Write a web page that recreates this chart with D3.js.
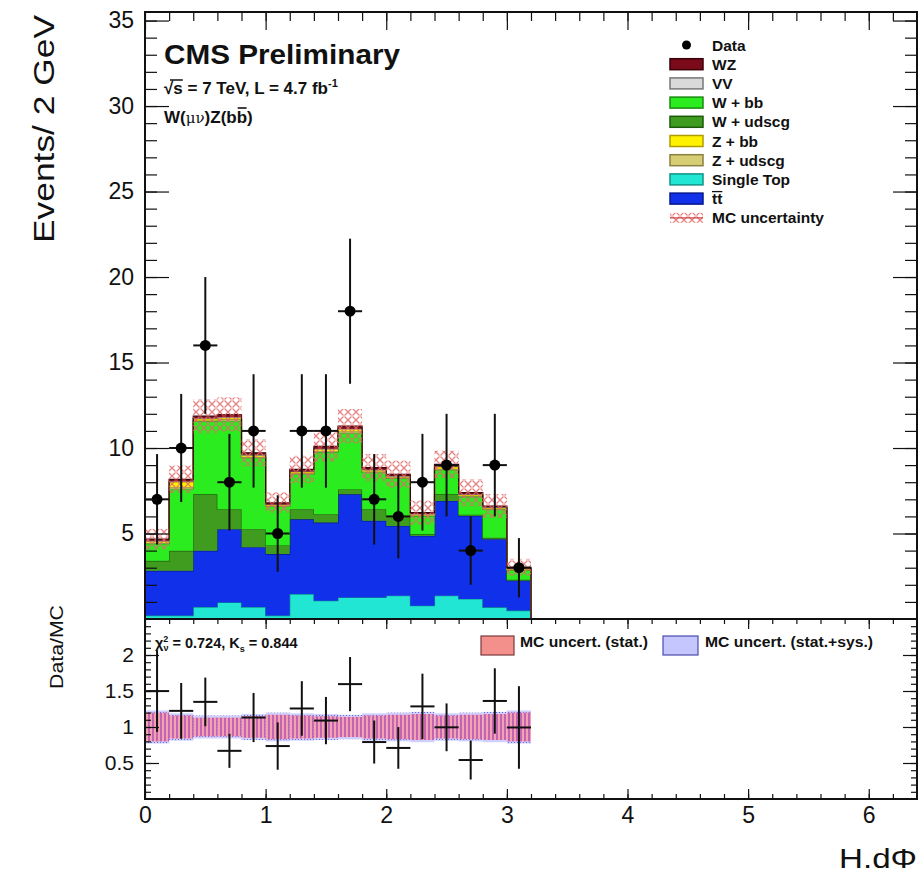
<!DOCTYPE html>
<html>
<head>
<meta charset="utf-8">
<script src="https://cdn.jsdelivr.net/npm/d3@7"></script>
<style>
  body { margin: 0; background: #fff; }
  svg { display: block; }
  text { font-family: "Liberation Sans", Arial, Helvetica, sans-serif; fill: #111; }
</style>
</head>
<body>
<svg id="chart" width="919" height="882"></svg>
<script>
// ---- binning (H.dPhi, 0.2 wide bins) ----
const binEdges = [0, 0.2, 0.4, 0.6, 0.8, 1.0, 1.2, 1.4, 1.6, 1.8, 2.0, 2.2, 2.4, 2.6, 2.8, 3.0, 3.2];

// ---- observed events ----
const dataCounts = [7, 10, 16, 8, 11, 5, 11, 11, 18, 7, 6, 8, 9, 4, 9, 3];

// ---- simulated backgrounds (stacked bottom to top) ----
const singleTop = [0.2, 0.2, 0.7, 0.97, 0.7, 0.2, 1.46, 1.07, 1.26, 1.26, 1.36, 0.78, 1.36, 1.17, 0.68, 0.49];
const ttbar     = [2.62, 2.62, 3.29, 4.28, 3.5, 3.6, 4.37, 4.57, 6.03, 4.48, 4.08, 4.08, 5.54, 4.86, 3.99, 1.75];
const wudscg    = [0.58, 1.17, 3.3, 1.17, 1.05, 0.5, 0.59, 0.49, 0.29, 0.68, 0.59, 0.09, 0.39, 0.07, 0.08, 0.06];
const wbb       = [1.01, 3.63, 4.27, 5.18, 4.19, 2.28, 2.05, 3.64, 3.32, 2.15, 2.2, 1.08, 1.45, 1.06, 1.67, 0.57];
const zudscg    = [0.05, 0.1, 0.05, 0.08, 0.05, 0.04, 0.05, 0.06, 0.08, 0.05, 0.04, 0.03, 0.05, 0.04, 0.03, 0.02];
const zbb       = [0.08, 0.3, 0.1, 0.1, 0.08, 0.05, 0.08, 0.1, 0.12, 0.08, 0.06, 0.05, 0.1, 0.06, 0.05, 0.04];
const vv        = [0.03, 0.03, 0.03, 0.03, 0.03, 0.03, 0.03, 0.03, 0.03, 0.03, 0.03, 0.03, 0.03, 0.03, 0.03, 0.03];
const wz        = [0.1, 0.12, 0.12, 0.15, 0.12, 0.1, 0.12, 0.14, 0.15, 0.12, 0.1, 0.08, 0.12, 0.1, 0.08, 0.06];

// ---- MC uncertainty on the stack total (absolute) ----
const mcErr = [0.6, 0.8, 1.0, 1.0, 0.8, 0.6, 0.8, 0.9, 1.0, 0.8, 0.8, 0.7, 0.8, 0.8, 0.7, 0.5];

// ---- relative MC uncertainty bands in the ratio panel ----
const statRel = [0.20, 0.16, 0.13, 0.13, 0.15, 0.17, 0.16, 0.15, 0.14, 0.16, 0.17, 0.18, 0.16, 0.17, 0.18, 0.20];
const sysRel  = [0.23, 0.19, 0.16, 0.16, 0.18, 0.20, 0.19, 0.18, 0.17, 0.19, 0.20, 0.21, 0.19, 0.20, 0.21, 0.23];

// ---- axis tick labels ----
const xTickLabels = [0, 1, 2, 3, 4, 5, 6];
const yTickLabels = [5, 10, 15, 20, 25, 30, 35];
const ratioTickLabels = [0.5, 1, 1.5, 2];

// ---- processes: key, legend label, fill, outline ----
const processes = [
  { key: "singleTop", label: "Single Top", fill: "#22e6d4", line: "#119488", values: singleTop },
  { key: "ttbar",     label: "tt",         fill: "#1030ea", line: "#08188c", values: ttbar },
  { key: "wudscg",    label: "W + udscg",  fill: "#3f9c1f", line: "#1d5a0a", values: wudscg },
  { key: "wbb",       label: "W + bb",     fill: "#2aec1e", line: "#1a8a12", values: wbb },
  { key: "zudscg",    label: "Z + udscg",  fill: "#d7cd74", line: "#8a8040", values: zudscg },
  { key: "zbb",       label: "Z + bb",     fill: "#fff200", line: "#b09c00", values: zbb },
  { key: "vv",        label: "VV",         fill: "#d9d9d9", line: "#777777", values: vv },
  { key: "wz",        label: "WZ",         fill: "#7b0a1a", line: "#3a0008", values: wz }
];
const legendOrder = ["wz", "vv", "wbb", "wudscg", "zbb", "zudscg", "singleTop", "ttbar"];

// ---- geometry ----
const L = 145, R = 917, T = 12, MID = 619, B = 799;
const svg = d3.select("#chart");

const x = d3.scaleLinear().domain([0, 6.4]).range([L, R]);
const y = d3.scaleLinear().domain([0, 35.5]).range([MID, T]);
const yr = d3.scaleLinear().domain([0, 2.5]).range([B, MID]);

// ---- patterns ----
const defs = svg.append("defs");
const hatch = defs.append("pattern").attr("id", "xhatch").attr("patternUnits", "userSpaceOnUse")
  .attr("width", 8).attr("height", 8);
hatch.append("path").attr("d", "M0.5,0.5L7.5,7.5M7.5,0.5L0.5,7.5")
  .attr("stroke", "#e26a6a").attr("stroke-width", 1.2).attr("fill", "none").attr("opacity", 0.85);

const statPat = defs.append("pattern").attr("id", "statPat").attr("patternUnits", "userSpaceOnUse")
  .attr("width", 4).attr("height", 4);
statPat.append("rect").attr("width", 4).attr("height", 4).attr("fill", "#f2a2b0");
statPat.append("line").attr("x1", 1).attr("x2", 1).attr("y1", 0).attr("y2", 4)
  .attr("stroke", "#b04ab4").attr("stroke-width", 1.4);

const sysPat = defs.append("pattern").attr("id", "sysPat").attr("patternUnits", "userSpaceOnUse")
  .attr("width", 3).attr("height", 3);
sysPat.append("rect").attr("width", 3).attr("height", 3).attr("fill", "#cfcfff");
sysPat.append("rect").attr("x", 1).attr("y", 1).attr("width", 1).attr("height", 1).attr("fill", "#6a6ae6");

// ---- stacked histogram ----
const rows = dataCounts.map((_, i) => {
  const r = { lo: binEdges[i], hi: binEdges[i + 1] };
  processes.forEach(p => { r[p.key] = p.values[i]; });
  return r;
});
const layers = d3.stack().keys(processes.map(p => p.key))(rows);
const totals = rows.map((r, i) => layers[layers.length - 1][i][1]);

const gStack = svg.append("g");
layers.forEach((layer, li) => {
  const p = processes[li];
  const pts = [];
  layer.forEach(d => {
    pts.push({ x: d.data.lo, y0: d[0], y1: d[1] });
    pts.push({ x: d.data.hi, y0: d[0], y1: d[1] });
  });
  const area = d3.area().x(d => x(d.x)).y0(d => y(d.y0)).y1(d => y(d.y1));
  gStack.append("path").attr("d", area(pts)).attr("fill", p.fill).attr("stroke", "none");
  const topLine = [{ x: pts[0].x, y1: 0 }, ...pts, { x: pts[pts.length - 1].x, y1: 0 }];
  gStack.append("path")
    .attr("d", d3.line().x(d => x(d.x)).y(d => y(d.y1))(topLine))
    .attr("fill", "none").attr("stroke", p.line).attr("stroke-width", 1.2);
});

// MC uncertainty hatching around the total
svg.append("g").selectAll("rect").data(rows).join("rect")
  .attr("x", d => x(d.lo)).attr("width", d => x(d.hi) - x(d.lo))
  .attr("y", (d, i) => y(totals[i] + mcErr[i]))
  .attr("height", (d, i) => y(totals[i] - mcErr[i]) - y(totals[i] + mcErr[i]))
  .attr("fill", "url(#xhatch)");

// ---- data points with Poisson errors ----
const gData = svg.append("g").attr("stroke", "#111").attr("stroke-width", 2);
rows.forEach((r, i) => {
  const n = dataCounts[i], e = Math.sqrt(n), cx = x((r.lo + r.hi) / 2);
  gData.append("line").attr("x1", cx).attr("x2", cx).attr("y1", y(n + e)).attr("y2", y(n - e));
  gData.append("line").attr("x1", x(r.lo)).attr("x2", x(r.hi)).attr("y1", y(n)).attr("y2", y(n));
  gData.append("circle").attr("cx", cx).attr("cy", y(n)).attr("r", 5.5).attr("fill", "#000").attr("stroke", "none");
});

// ---- ratio panel ----
const gRatio = svg.append("g");
rows.forEach((r, i) => {
  gRatio.append("rect").attr("x", x(r.lo)).attr("width", x(r.hi) - x(r.lo))
    .attr("y", yr(1 + sysRel[i])).attr("height", yr(1 - sysRel[i]) - yr(1 + sysRel[i]))
    .attr("fill", "url(#sysPat)");
  gRatio.append("rect").attr("x", x(r.lo)).attr("width", x(r.hi) - x(r.lo))
    .attr("y", yr(1 + statRel[i])).attr("height", yr(1 - statRel[i]) - yr(1 + statRel[i]))
    .attr("fill", "url(#statPat)");
});
const gRatioPts = svg.append("g").attr("stroke", "#111").attr("stroke-width", 2);
rows.forEach((r, i) => {
  const ratio = dataCounts[i] / totals[i];
  const err = Math.sqrt(dataCounts[i]) / totals[i];
  const cx = x((r.lo + r.hi) / 2);
  gRatioPts.append("line").attr("x1", cx).attr("x2", cx)
    .attr("y1", yr(Math.min(2.5, ratio + err))).attr("y2", yr(Math.max(0, ratio - err)));
  gRatioPts.append("line").attr("x1", x(r.lo)).attr("x2", x(r.hi)).attr("y1", yr(ratio)).attr("y2", yr(ratio));
});

// ---- axes and frames ----
function styleAxis(g, fontSize) {
  g.select(".domain").remove();
  g.selectAll(".tick line").attr("stroke", "#111").attr("stroke-width", 1.2);
  g.selectAll(".tick text").attr("font-size", fontSize).attr("fill", "#1a1a1a")
    .attr("font-family", "Liberation Sans, Arial, sans-serif");
}
const fmt = d => String(d);

// main panel: left / right y, top x
styleAxis(svg.append("g").attr("transform", `translate(${L},0)`)
  .call(d3.axisLeft(y).tickValues(d3.range(1, 36)).tickSize(-12).tickFormat("")), 0);
styleAxis(svg.append("g").attr("transform", `translate(${L},0)`)
  .call(d3.axisLeft(y).tickValues(yTickLabels).tickSize(-24).tickPadding(11).tickFormat(fmt)), 23);
styleAxis(svg.append("g").attr("transform", `translate(${R},0)`)
  .call(d3.axisRight(y).tickValues(d3.range(1, 36)).tickSize(-12).tickFormat("")), 0);
styleAxis(svg.append("g").attr("transform", `translate(${R},0)`)
  .call(d3.axisRight(y).tickValues(yTickLabels).tickSize(-24).tickFormat("")), 0);
styleAxis(svg.append("g").attr("transform", `translate(0,${T})`)
  .call(d3.axisTop(x).tickValues(d3.range(0.2, 6.4, 0.2)).tickSize(-9).tickFormat("")), 0);
styleAxis(svg.append("g").attr("transform", `translate(0,${T})`)
  .call(d3.axisTop(x).tickValues(xTickLabels).tickSize(-18).tickFormat("")), 0);

// ratio panel: left / right y, top / bottom x
styleAxis(svg.append("g").attr("transform", `translate(${L},0)`)
  .call(d3.axisLeft(yr).tickValues(d3.range(0.1, 2.5, 0.1)).tickSize(-6).tickFormat("")), 0);
styleAxis(svg.append("g").attr("transform", `translate(${L},0)`)
  .call(d3.axisLeft(yr).tickValues(ratioTickLabels).tickSize(-14).tickPadding(11).tickFormat(fmt)), 21);
styleAxis(svg.append("g").attr("transform", `translate(${R},0)`)
  .call(d3.axisRight(yr).tickValues(d3.range(0.1, 2.5, 0.1)).tickSize(-6).tickFormat("")), 0);
styleAxis(svg.append("g").attr("transform", `translate(${R},0)`)
  .call(d3.axisRight(yr).tickValues(ratioTickLabels).tickSize(-14).tickFormat("")), 0);
styleAxis(svg.append("g").attr("transform", `translate(0,${MID})`)
  .call(d3.axisTop(x).tickValues(d3.range(0.2, 6.4, 0.2)).tickSize(-5).tickFormat("")), 0);
styleAxis(svg.append("g").attr("transform", `translate(0,${MID})`)
  .call(d3.axisTop(x).tickValues(xTickLabels).tickSize(-10).tickFormat("")), 0);
styleAxis(svg.append("g").attr("transform", `translate(0,${B})`)
  .call(d3.axisBottom(x).tickValues(d3.range(0.2, 6.4, 0.2)).tickSize(-5).tickFormat("")), 0);
styleAxis(svg.append("g").attr("transform", `translate(0,${B})`)
  .call(d3.axisBottom(x).tickValues(xTickLabels).tickSize(-10).tickPadding(8).tickFormat(fmt)), 23);

svg.append("rect").attr("x", L).attr("y", T).attr("width", R - L).attr("height", MID - T)
  .attr("fill", "none").attr("stroke", "#111").attr("stroke-width", 2);
svg.append("rect").attr("x", L).attr("y", MID).attr("width", R - L).attr("height", B - MID)
  .attr("fill", "none").attr("stroke", "#111").attr("stroke-width", 2);

// ---- axis titles ----
svg.append("text").attr("transform", "translate(54,15) rotate(-90)")
  .attr("text-anchor", "end").attr("font-size", 29)
  .attr("textLength", 228).attr("lengthAdjust", "spacingAndGlyphs")
  .text("Events/ 2 GeV");
svg.append("text").attr("transform", "translate(63,605) rotate(-90)")
  .attr("text-anchor", "end").attr("font-size", 18)
  .attr("textLength", 84).attr("lengthAdjust", "spacingAndGlyphs")
  .text("Data/MC");
svg.append("text").attr("x", 917).attr("y", 868).attr("text-anchor", "end")
  .attr("font-size", 27).attr("textLength", 78).attr("lengthAdjust", "spacingAndGlyphs")
  .text("H.dΦ");

// ---- header text ----
svg.append("text").attr("x", 164).attr("y", 64).attr("font-size", 28).attr("font-weight", "bold")
  .attr("textLength", 236).attr("lengthAdjust", "spacingAndGlyphs").text("CMS Preliminary");

const energy = svg.append("text").attr("x", 164).attr("y", 94).attr("font-size", 17).attr("font-weight", "bold");
energy.append("tspan").text("√s = 7 TeV, L = 4.7 fb");
energy.append("tspan").attr("font-size", 11).attr("dy", -7).text("-1");
{
  const n = energy.node();
  const s0 = n.getStartPositionOfChar(0).x + 6, s1 = n.getEndPositionOfChar(1).x;
  svg.append("line").attr("x1", s0).attr("x2", s1).attr("y1", 80).attr("y2", 80)
    .attr("stroke", "#111").attr("stroke-width", 1.5);
}

const chan = svg.append("text").attr("x", 164).attr("y", 123).attr("font-size", 17).attr("font-weight", "bold");
chan.append("tspan").text("W(");
chan.append("tspan").attr("font-family", "DejaVu Serif, Liberation Serif, serif").attr("font-weight", "normal").attr("font-size", 15).text("μν");
chan.append("tspan").text(")Z(bb)");
{
  const n = chan.node();
  const len = n.getNumberOfChars();
  const bIdx = len - 2;
  const a = n.getStartPositionOfChar(bIdx).x, b = n.getEndPositionOfChar(bIdx).x;
  svg.append("line").attr("x1", a + 1).attr("x2", b - 0.5).attr("y1", 108).attr("y2", 108)
    .attr("stroke", "#111").attr("stroke-width", 1.6);
}

// ---- main legend ----
const gLeg = svg.append("g");
const legY0 = 45, legStep = 19.2, boxX = 670, boxW = 33, boxH = 11, textX = 712, legFont = 15.5;
gLeg.append("circle").attr("cx", boxX + boxW / 2).attr("cy", legY0).attr("r", 4.5).attr("fill", "#000");
gLeg.append("text").attr("x", textX).attr("y", legY0 + 5.5).attr("font-size", legFont).attr("font-weight", "bold").text("Data");
legendOrder.forEach((k, i) => {
  const p = processes.find(q => q.key === k);
  const cy = legY0 + legStep * (i + 1);
  gLeg.append("rect").attr("x", boxX).attr("y", cy - boxH / 2).attr("width", boxW).attr("height", boxH)
    .attr("fill", p.fill).attr("stroke", p.line).attr("stroke-width", 1.5);
  const t = gLeg.append("text").attr("x", textX).attr("y", cy + 5.5).attr("font-size", legFont)
    .attr("font-weight", "bold").text(p.label);
  if (k === "ttbar") {
    const w = t.node().getComputedTextLength();
    gLeg.append("line").attr("x1", textX).attr("x2", textX + w).attr("y1", cy - 7).attr("y2", cy - 7)
      .attr("stroke", "#111").attr("stroke-width", 1.3);
  }
});
{
  const cy = legY0 + legStep * 9;
  gLeg.append("rect").attr("x", boxX).attr("y", cy - 5).attr("width", boxW).attr("height", 10).attr("fill", "url(#xhatch)");
  gLeg.append("line").attr("x1", boxX).attr("x2", boxX + boxW).attr("y1", cy).attr("y2", cy)
    .attr("stroke", "#d04848").attr("stroke-width", 1.3);
  gLeg.append("text").attr("x", textX).attr("y", cy + 5.5).attr("font-size", legFont).attr("font-weight", "bold").text("MC uncertainty");
}

// ---- ratio panel annotations ----
const chi = svg.append("text").attr("x", 155).attr("y", 648).attr("font-size", 14.5).attr("font-weight", "bold");
chi.append("tspan").text("χ");
chi.append("tspan").attr("font-size", 9).attr("dy", -6).text("2");
chi.append("tspan").attr("font-size", 9).attr("dx", -5).attr("dy", 9).text("ν");
chi.append("tspan").attr("dy", -3).text(" = 0.724, K");
chi.append("tspan").attr("font-size", 9).attr("dy", 4).text("s");
chi.append("tspan").attr("dy", -4).text(" = 0.844");

svg.append("rect").attr("x", 481).attr("y", 636).attr("width", 33).attr("height", 19)
  .attr("fill", "#f4908c").attr("stroke", "#7a3a3a").attr("stroke-width", 1.2);
svg.append("text").attr("x", 520).attr("y", 647).attr("font-size", 14.5).attr("font-weight", "bold")
  .attr("textLength", 128).attr("lengthAdjust", "spacingAndGlyphs")
  .text("MC uncert. (stat.)");
svg.append("rect").attr("x", 663).attr("y", 636).attr("width", 35).attr("height", 19)
  .attr("fill", "#c6c6ff").attr("stroke", "#4a4ab0").attr("stroke-width", 1.2);
svg.append("text").attr("x", 705).attr("y", 647).attr("font-size", 14.5).attr("font-weight", "bold")
  .attr("textLength", 168).attr("lengthAdjust", "spacingAndGlyphs")
  .text("MC uncert. (stat.+sys.)");
</script>
</body>
</html>
